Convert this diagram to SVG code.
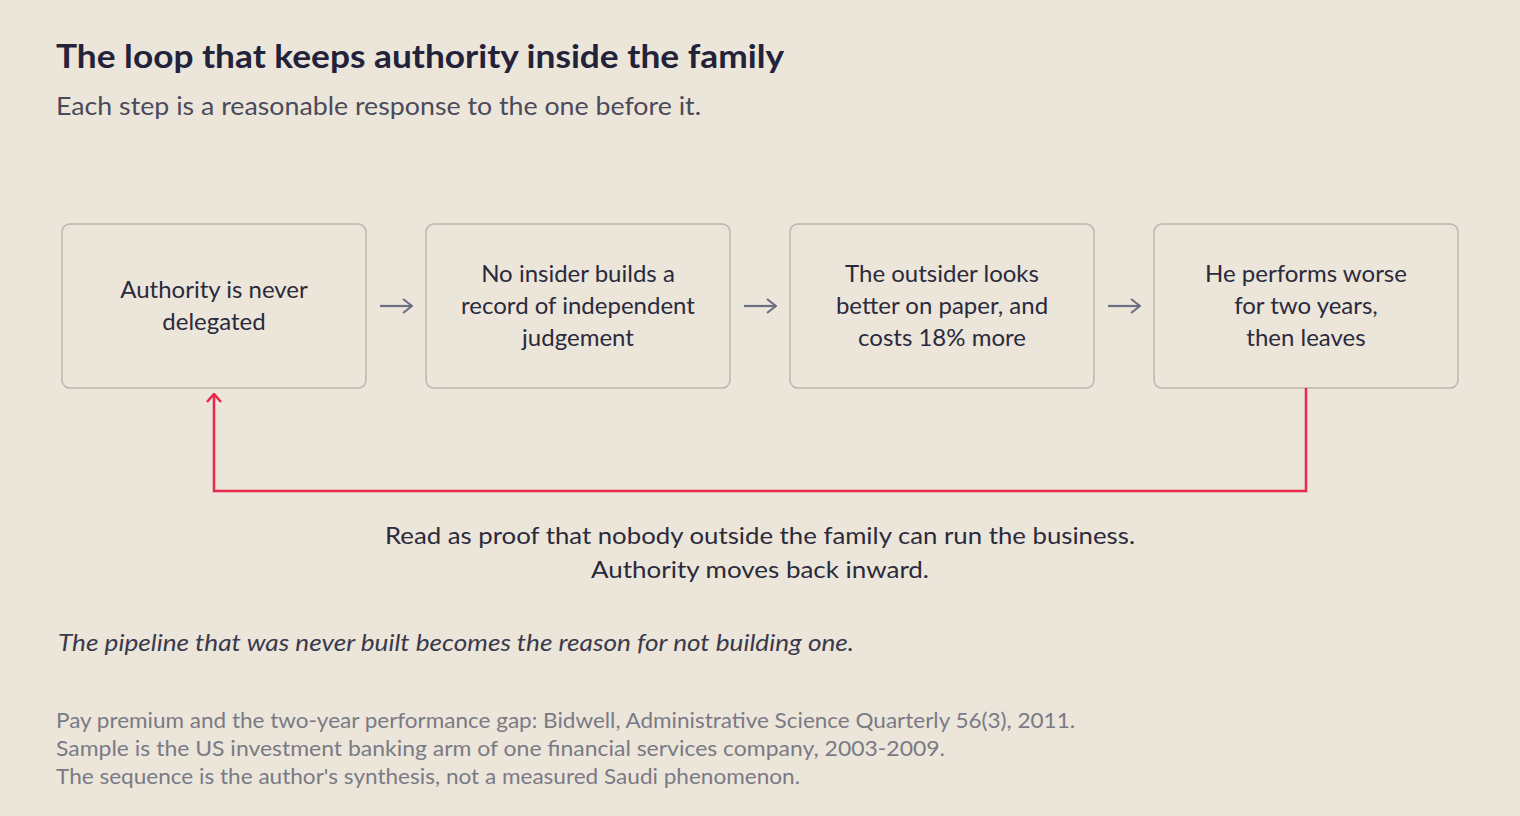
<svg xmlns="http://www.w3.org/2000/svg" width="1520" height="816" viewBox="0 0 1520 816">
<style>
text{font-family:Lato,"Noto Sans",sans-serif}
.box{fill:#ece5d9;stroke:#bdb5ab;stroke-width:1.5}
.bt{font-size:24px;fill:#2a2a3c;text-anchor:middle}
.ar{stroke:#6b6f82;stroke-width:2.2;fill:none}
.fn{font-size:21px;fill:#7a7a86}
</style>
<defs>
<marker id="ag" viewBox="0 0 16 16" refX="15" refY="8" markerWidth="16" markerHeight="16" markerUnits="userSpaceOnUse" orient="auto"><path d="M6,1 L15,8 L6,15" fill="none" stroke="#6b6f82" stroke-width="2.2"/></marker>
<marker id="ar" viewBox="0 0 16 16" refX="15" refY="8" markerWidth="16" markerHeight="16" markerUnits="userSpaceOnUse" orient="auto"><path d="M7,1 L15,8 L7,15" fill="none" stroke="#e8274a" stroke-width="2.5"/></marker>
</defs>
<rect width="1520" height="816" fill="#ece5d9"/>
<text x="56" y="68" font-size="33" font-weight="bold" fill="#22223a" textLength="728" lengthAdjust="spacingAndGlyphs">The loop that keeps authority inside the family</text>
<text x="56" y="115" font-size="25" fill="#4a4a5a" textLength="645" lengthAdjust="spacingAndGlyphs">Each step is a reasonable response to the one before it.</text>
<g id="n1"><rect class="box" x="62" y="224" width="304" height="164" rx="8"/><text class="bt" x="214" y="298">Authority is never</text><text class="bt" x="214" y="330">delegated</text></g>
<g id="n2"><rect class="box" x="426" y="224" width="304" height="164" rx="8"/><text class="bt" x="578" y="282">No insider builds a</text><text class="bt" x="578" y="314">record of independent</text><text class="bt" x="578" y="346">judgement</text></g>
<g id="n3"><rect class="box" x="790" y="224" width="304" height="164" rx="8"/><text class="bt" x="942" y="282">The outsider looks</text><text class="bt" x="942" y="314">better on paper, and</text><text class="bt" x="942" y="346">costs 18% more</text></g>
<g id="n4"><rect class="box" x="1154" y="224" width="304" height="164" rx="8"/><text class="bt" x="1306" y="282">He performs worse</text><text class="bt" x="1306" y="314">for two years,</text><text class="bt" x="1306" y="346">then leaves</text></g>
<g id="connectors">
<line class="ar" x1="380" y1="306" x2="412" y2="306" marker-end="url(#ag)"/>
<line class="ar" x1="744" y1="306" x2="776" y2="306" marker-end="url(#ag)"/>
<line class="ar" x1="1108" y1="306" x2="1140" y2="306" marker-end="url(#ag)"/>
<path d="M1306,388 V491 H214 V394" fill="none" stroke="#e8274a" stroke-width="2.5" marker-end="url(#ar)"/>
</g>
<text class="bt" x="760" y="544" textLength="750" lengthAdjust="spacingAndGlyphs">Read as proof that nobody outside the family can run the business.</text>
<text class="bt" x="760" y="578" textLength="338" lengthAdjust="spacingAndGlyphs">Authority moves back inward.</text>
<text x="58" y="651" font-size="24" font-style="italic" fill="#3a3a4c" textLength="796" lengthAdjust="spacingAndGlyphs">The pipeline that was never built becomes the reason for not building one.</text>
<text class="fn" x="56" y="728" textLength="1019" lengthAdjust="spacingAndGlyphs">Pay premium and the two-year performance gap: Bidwell, Administrative Science Quarterly 56(3), 2011.</text>
<text class="fn" x="56" y="756" textLength="889" lengthAdjust="spacingAndGlyphs">Sample is the US investment banking arm of one financial services company, 2003-2009.</text>
<text class="fn" x="56" y="784" textLength="744" lengthAdjust="spacingAndGlyphs">The sequence is the author's synthesis, not a measured Saudi phenomenon.</text>
</svg>
